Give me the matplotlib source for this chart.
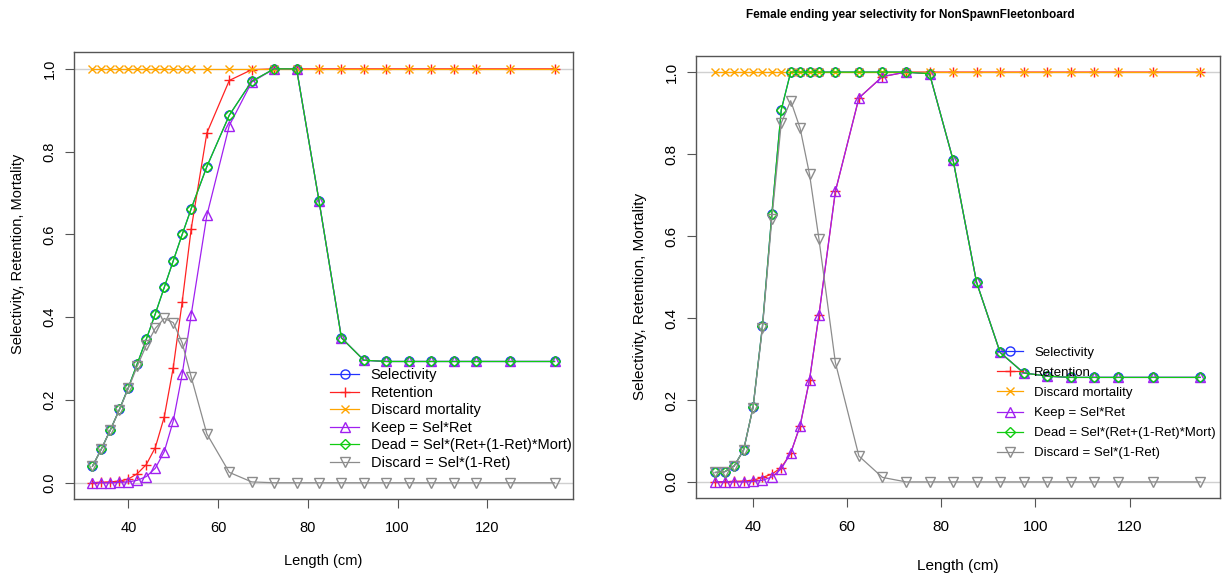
import matplotlib
matplotlib.use("Agg")
import matplotlib.pyplot as plt

plt.rcParams['font.family'] = ['Liberation Sans', 'DejaVu Sans']

# length bins (cm), shared by both panels
length = [32, 34, 36, 38, 40, 42, 44, 46, 48, 50, 52, 54, 57.5, 62.5, 67.5,
          72.5, 77.5, 82.5, 87.5, 92.5, 97.5, 102.5, 107.5, 112.5, 117.5, 125, 135]

# left panel
sel_left = [0.040, 0.082, 0.128, 0.177, 0.230, 0.288, 0.347, 0.408, 0.472, 0.536, 0.600, 0.662, 0.764, 0.888,
            0.970, 1.0, 1.0, 0.681, 0.350, 0.296, 0.293, 0.293, 0.293, 0.293, 0.293, 0.293, 0.293]
ret_left = [0.0005, 0.001, 0.002, 0.004, 0.009, 0.022, 0.044, 0.085, 0.159, 0.278, 0.437, 0.613, 0.845, 0.972,
            0.998, 1.0, 1.0, 1.0, 1.0, 1.0, 1.0, 1.0, 1.0, 1.0, 1.0, 1.0, 1.0]
mort_left = [1.0, 1.0, 1.0, 1.0, 1.0, 1.0, 1.0, 1.0, 1.0, 1.0, 1.0, 1.0, 1.0, 1.0,
             1.0, 1.0, 1.0, 1.0, 1.0, 1.0, 1.0, 1.0, 1.0, 1.0, 1.0, 1.0, 1.0]
keep_left = [0.000, 0.000, 0.000, 0.001, 0.002, 0.006, 0.015, 0.035, 0.075, 0.149, 0.262, 0.406, 0.646, 0.863,
             0.968, 1.0, 1.0, 0.681, 0.350, 0.296, 0.293, 0.293, 0.293, 0.293, 0.293, 0.293, 0.293]
dead_left = [0.040, 0.082, 0.128, 0.177, 0.230, 0.288, 0.347, 0.408, 0.472, 0.536, 0.600, 0.662, 0.764, 0.888,
             0.970, 1.0, 1.0, 0.681, 0.350, 0.296, 0.293, 0.293, 0.293, 0.293, 0.293, 0.293, 0.293]
disc_left = [0.040, 0.082, 0.128, 0.176, 0.228, 0.282, 0.332, 0.373, 0.397, 0.387, 0.338, 0.256, 0.118, 0.025,
             0.002, 0.0, 0.0, 0.0, 0.0, 0.0, 0.0, 0.0, 0.0, 0.0, 0.0, 0.0, 0.0]

# right panel
sel_right = [0.023, 0.025, 0.039, 0.078, 0.182, 0.380, 0.654, 0.908, 1.0, 1.0, 1.0, 1.0, 1.0, 1.0,
             1.0, 1.0, 0.996, 0.786, 0.487, 0.316, 0.266, 0.258, 0.255, 0.255, 0.255, 0.255, 0.255]
ret_right = [0.0003, 0.0006, 0.001, 0.002, 0.004, 0.011, 0.019, 0.035, 0.070, 0.137, 0.249, 0.407, 0.709, 0.937,
             0.989, 1.0, 1.0, 1.0, 1.0, 1.0, 1.0, 1.0, 1.0, 1.0, 1.0, 1.0, 1.0]
mort_right = [1.0, 1.0, 1.0, 1.0, 1.0, 1.0, 1.0, 1.0, 1.0, 1.0, 1.0, 1.0, 1.0, 1.0,
              1.0, 1.0, 1.0, 1.0, 1.0, 1.0, 1.0, 1.0, 1.0, 1.0, 1.0, 1.0, 1.0]
keep_right = [0.000, 0.000, 0.000, 0.000, 0.001, 0.004, 0.012, 0.032, 0.070, 0.137, 0.249, 0.407, 0.709, 0.937,
              0.989, 1.0, 0.996, 0.786, 0.487, 0.316, 0.266, 0.258, 0.255, 0.255, 0.255, 0.255, 0.255]
dead_right = [0.023, 0.025, 0.039, 0.078, 0.182, 0.380, 0.654, 0.908, 1.0, 1.0, 1.0, 1.0, 1.0, 1.0,
              1.0, 1.0, 0.996, 0.786, 0.487, 0.316, 0.266, 0.258, 0.255, 0.255, 0.255, 0.255, 0.255]
disc_right = [0.023, 0.025, 0.039, 0.078, 0.181, 0.376, 0.642, 0.876, 0.930, 0.863, 0.751, 0.593, 0.291, 0.063,
              0.011, 0.0, 0.0, 0.0, 0.0, 0.0, 0.0, 0.0, 0.0, 0.0, 0.0, 0.0, 0.0]

labels = ['Selectivity', 'Retention', 'Discard mortality', 'Keep = Sel*Ret',
          'Dead = Sel*(Ret+(1-Ret)*Mort)', 'Discard = Sel*(1-Ret)']
colors = ['#2233FF', '#FF2222', '#FFA500', '#A020F0', '#11CC11', '#8C8C8C']
markers = ['o', '+', 'x', '^', 'D', 'v']
msizes = [6.5, 7, 6, 6.5, 5, 6.5]

W, H = 1229, 586
fig = plt.figure(figsize=(W / 100, H / 100), dpi=100)


def panel(rect, series, fs, leg_fs, leg_xy, leg_spacing, ylab_xy, xlab_pad):
    ax = fig.add_axes(rect)
    ax.axhline(0, color='#D0D0D0', lw=1, zorder=0)
    ax.axhline(1, color='#D0D0D0', lw=1, zorder=0)
    for vals, lab, c, m, ms in zip(series, labels, colors, markers, msizes):
        ax.plot(length, vals, color=c, marker=m, ms=ms, mfc='none', mec=c,
                mew=1, lw=0.9, label=lab)
    ax.set_xlim(27.88, 139.12)
    ax.set_ylim(-0.04, 1.04)
    ax.set_xticks([40, 60, 80, 100, 120])
    ax.set_yticks([0.0, 0.2, 0.4, 0.6, 0.8, 1.0])
    ax.set_yticklabels(['0.0', '0.2', '0.4', '0.6', '0.8', '1.0'], rotation=90, va='center')
    ax.tick_params(axis='x', length=6.5, pad=9, labelsize=fs, color='#555555')
    ax.tick_params(axis='y', length=6.5, pad=6, labelsize=fs, color='#555555')
    for s in ax.spines.values():
        s.set_color('#555555')
        s.set_linewidth(1)
    ax.set_xlabel('Length (cm)', fontsize=fs, labelpad=xlab_pad)
    ax.set_ylabel('Selectivity, Retention, Mortality', fontsize=fs)
    ax.yaxis.set_label_coords(ylab_xy[0], ylab_xy[1])
    ax.legend(loc='upper left', bbox_to_anchor=leg_xy, frameon=False, fontsize=leg_fs,
              borderpad=0, borderaxespad=0, handlelength=2.0, handletextpad=0.8,
              labelspacing=leg_spacing, numpoints=1)
    return ax


panel([74 / W, 1 - 499.3 / H, 499 / W, 447 / H],
      [sel_left, ret_left, mort_left, keep_left, dead_left, disc_left],
      10.5, 10.5, (0.513, 0.293), 0.24, (-0.098, 0.55), 14)

panel([696 / W, 1 - 498.3 / H, 523.5 / W, 442.6 / H],
      [sel_right, ret_right, mort_right, keep_right, dead_right, disc_right],
      11, 9.5, (0.575, 0.343), 0.6, (-0.094, 0.455), 18)

fig.text(910 / W, 1 - 15 / H, 'Female ending year selectivity for NonSpawnFleetonboard',
         ha='center', va='center', fontsize=8.5, fontweight='bold')

fig.savefig('out.png', dpi=100)
